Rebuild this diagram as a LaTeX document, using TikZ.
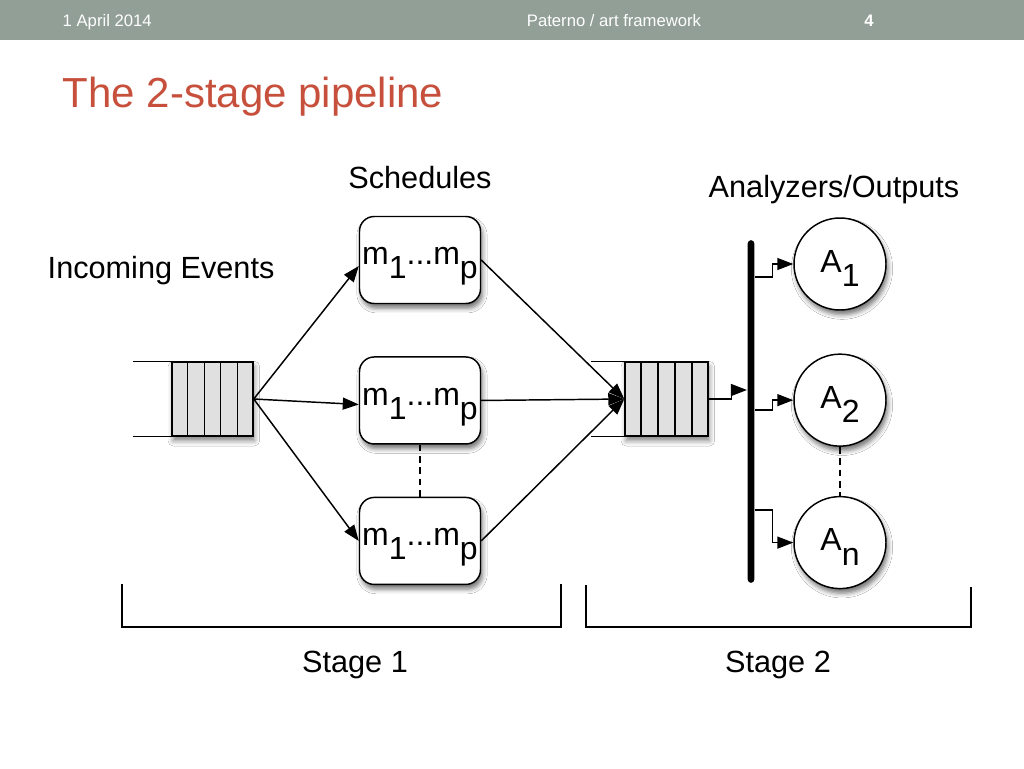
\documentclass[tikz,border=0pt]{standalone}
\usepackage{fontspec}
\setmainfont{Liberation Sans}
\usetikzlibrary{positioning, calc, arrows.meta, shadows.blur}
\definecolor{barcolor}{RGB}{145,159,151}
\definecolor{titlered}{RGB}{199,80,61}
\definecolor{cellgray}{RGB}{224,224,224}

\begin{document}
\begin{tikzpicture}[x=0.75pt, y=-0.75pt, node distance=39pt, line width=1.1pt,
        >={Triangle[length=12pt, width=9pt]},
        txt/.style={inner sep=0, font=\fontsize{23}{27}\selectfont},
        sched/.style={draw, rounded corners=11pt, fill=white, minimum width=90.75pt, minimum height=65.25pt,
            inner sep=0, text height=11pt, text depth=4.2pt, font=\fontsize{24}{28}\selectfont,
            blur shadow={shadow xshift=1.5pt, shadow yshift=-3.5pt, shadow blur radius=3.5pt, shadow opacity=55}},
        ana/.style={draw, circle, fill=white, minimum size=69pt, inner sep=0,
            text height=14pt, text depth=2pt, font=\fontsize{24}{28}\selectfont,
            blur shadow={shadow xshift=1.5pt, shadow yshift=-3.5pt, shadow blur radius=3.5pt, shadow opacity=55}},
        queue/.style={draw, fill=cellgray, minimum height=55.5pt, inner sep=0,
            blur shadow={shadow xshift=1pt, shadow yshift=-3.5pt, shadow blur radius=4pt, shadow opacity=50}}]
        \useasboundingbox (0,0) rectangle (1024,768);
        \fill[white] (0,0) rectangle (1024,768);

        % Header
        \fill[barcolor] (0,0) rectangle (1024,40);
        \node[anchor=base west, inner sep=0, text=white, font=\fontsize{12.5}{15}\selectfont] (date) at (62,26) {1 April 2014};
        \node[anchor=base, inner sep=0, text=white, font=\fontsize{12.5}{15}\selectfont] (talk) at (614,26) {Paterno / art framework};
        \node[anchor=base, inner sep=0, text=white, font=\fontsize{12.5}{15}\selectfont\bfseries] (page) at (869,26) {4};
        \node[anchor=base west, inner sep=0, text=titlered, font=\fontsize{31.5}{36}\selectfont] (title) at (62,107) {The 2-stage pipeline};

        % Nodes
        \node[queue, minimum width=60.75pt] (q1) at (212.5,399) {};
        \node[sched] (box1) at (420,260) {m\raisebox{-0.45em}{1}...m\raisebox{-0.45em}{p}};
        \node[sched, below=of box1] (box2) {m\raisebox{-0.45em}{1}...m\raisebox{-0.45em}{p}};
        \node[sched, below=of box2] (box3) {m\raisebox{-0.45em}{1}...m\raisebox{-0.45em}{p}};
        \node[queue, minimum width=62.25pt] (q2) at (666.5,399) {};
        \node[fill, rounded corners=2.5pt, minimum width=5pt, minimum height=257pt, inner sep=0] (bus) at (751,411.5) {};
        \node[ana] (a1) at (840,264) {A\raisebox{-0.45em}{1}};
        \node[ana, below=32pt of a1] (a2) {A\raisebox{-0.45em}{2}};
        \node[ana, below=36.75pt of a2] (an) {A\raisebox{-0.45em}{n}};

        % Labels
        \node[txt, anchor=base west] (incoming) at (47,278) {Incoming Events};
        \node[txt, above=20pt of box1] (schedules) {Schedules};
        \node[txt, anchor=base] (outputs) at (834,197) {Analyzers/Outputs};
        \node[txt, anchor=base] (stage1) at (355,672) {Stage 1};
        \node[txt, anchor=base] (stage2) at (778,672) {Stage 2};

        % Queue cells
        \foreach \q in {q1,q2}
            \foreach \i in {1,...,4}
                \draw ($(\q.north west)!\i/5!(\q.north east)$) -- ($(\q.south west)!\i/5!(\q.south east)$);
        \draw (q1.north east) -- ++(-121,0);
        \draw (q1.south east) -- ++(-121,0);
        \draw (q2.north east) -- ++(-118,0);
        \draw (q2.south east) -- ++(-118,0);

        % Arrows
        \draw[->] (q1.east) -- ($(box1.west)+(0,6)$);
        \draw[->] (q1.east) -- ($(box2.west)+(0,4)$);
        \draw[->] (q1.east) -- (box3.west);
        \draw[->] (box1.east) -- (q2.west);
        \draw[->] (box2.east) -- (q2.west);
        \draw[->] (box3.east) -- (q2.west);
        \draw[->] (q2.east) -- ++(23,0) |- ($(bus.west)+(0,-21.5)$);
        \draw[->] ($(bus.east)+(0,-134.5)$) -| ($(a1.west)+(-21,0)$) -- (a1.west);
        \draw[->] ($(bus.east)+(0,-1.5)$) -| ($(a2.west)+(-21,0)$) -- (a2.west);
        \draw[->] ($(bus.east)+(0,98.5)$) -| ($(an.west)+(-21,0)$) -- (an.west);
        \draw[dashed, dash pattern=on 5pt off 3.5pt] (box2) -- (box3);
        \draw[dashed, dash pattern=on 5pt off 3.5pt] (a2) -- (an);

        % Brackets
        \draw (122,584) |- (561,627) -- (561,584);
        \draw (586,585) |- (971,627) -- (971,587);
    \end{tikzpicture}
\end{document}
